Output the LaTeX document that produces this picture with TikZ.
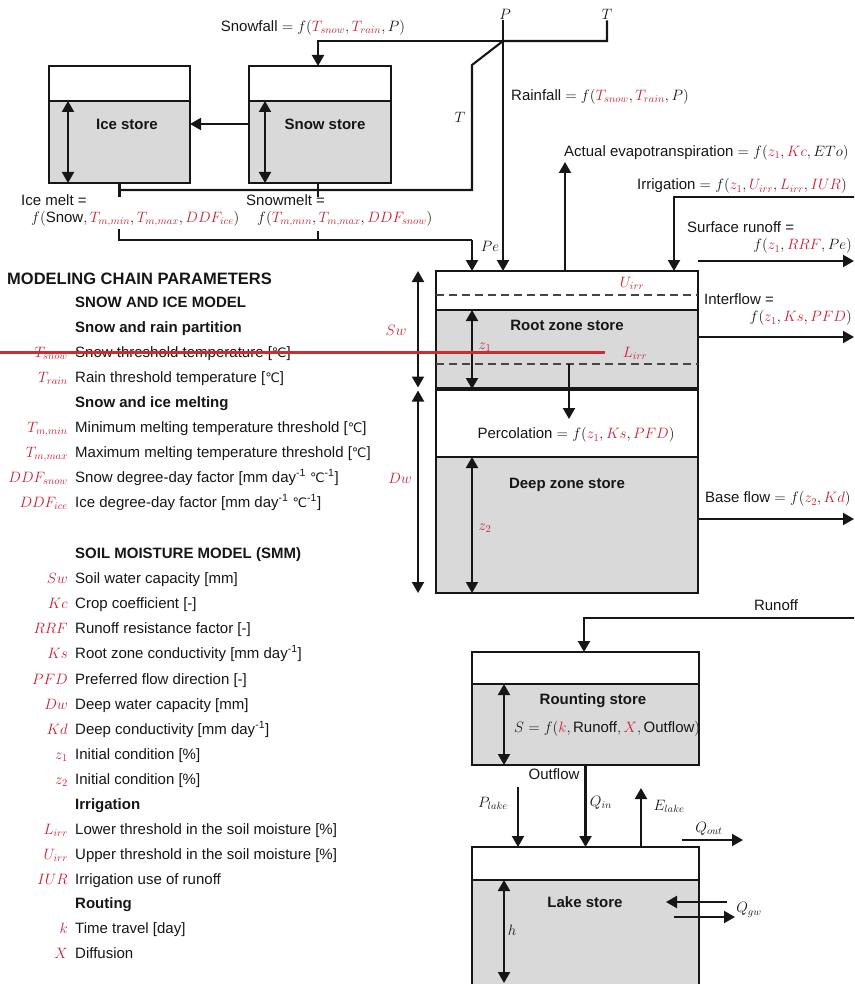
\RequirePackage{fix-cm}
\documentclass[tikz,border=0pt]{standalone}
\usepackage{amsmath}
\usepackage[no-math]{fontspec}
\setmainfont{Liberation Sans}
\newfontfamily\degCfont{DejaVu Sans}
\usetikzlibrary{arrows.meta,positioning,calc}
\definecolor{inkBlack}{RGB}{22,22,22}
\definecolor{storeGray}{RGB}{217,217,217}
\definecolor{dashGray}{RGB}{70,70,70}
\definecolor{paramRed}{RGB}{196,34,56}
\definecolor{markRed}{RGB}{208,44,48}
\newcommand{\rp}[1]{\textcolor{paramRed}{#1}}
\newcommand{\degC}{{\degCfont\fontsize{13}{16}\selectfont ℃}}
\tikzset{
  store top/.style={draw=inkBlack,fill=white,line width=2.5pt,outer sep=0pt,inner sep=0pt},
  store body/.style={draw=inkBlack,fill=storeGray,line width=2.5pt,outer sep=0pt,inner sep=0pt},
  store name/.style={inner sep=1pt,font=\fontsize{15}{18}\selectfont\bfseries,text=inkBlack},
  flow arrow/.style={-{Triangle[length=11pt,width=12pt]},line width=2.1pt,draw=inkBlack},
  flow line/.style={line width=2.1pt,draw=inkBlack},
  level arrow/.style={{Triangle[length=11pt,width=12pt]}-{Triangle[length=11pt,width=12pt]},line width=2pt,draw=inkBlack},
  threshold line/.style={dash pattern=on 8pt off 5pt,line width=2pt,draw=dashGray},
  flow label/.style={inner sep=1pt,text=inkBlack},
  param text/.style={anchor=west,inner sep=1pt,text height=11pt,text depth=3pt,text=inkBlack},
  param head/.style={param text,font=\fontsize{15}{18}\selectfont\bfseries},
  param sym/.style={inner sep=1pt,text=paramRed}
}

\begin{document}
\begin{tikzpicture}[x=1pt,y=-1pt,font=\fontsize{15}{18}\selectfont,text=inkBlack]
  \useasboundingbox (0,0) rectangle (854,984);
  \clip (0,0) rectangle (854,984);

  % snow and ice stores
  \node[store body,minimum width=141pt,minimum height=82pt] (iceBody) at (119.5,142) {};
  \node[store top,minimum width=141pt,minimum height=35pt,above=0pt of iceBody] (iceTop) {};
  \node[store body,minimum width=142pt,minimum height=82pt] (snowBody) at (320,142) {};
  \node[store top,minimum width=142pt,minimum height=35pt,above=0pt of snowBody] (snowTop) {};
  \node[store name] (iceName) at (127,124) {Ice store};
  \node[store name] (snowName) at (325,124) {Snow store};
  \draw[level arrow] ([xshift=19pt]iceBody.north west) -- ([xshift=19pt]iceBody.south west);
  \draw[level arrow] ([xshift=16pt]snowBody.north west) -- ([xshift=16pt]snowBody.south west);
  \draw[flow arrow] (snowBody.west |- snowName) -- (iceBody.east |- snowName);

  % soil column
  \node[store top,minimum width=262pt,minimum height=39pt] (rootTop) at (567,290.5) {};
  \node[store body,minimum width=262pt,minimum height=79pt,below=0pt of rootTop] (rootBody) {};
  \node[store top,minimum width=262pt,minimum height=68pt,below=0pt of rootBody] (percZone) {};
  \node[store body,minimum width=262pt,minimum height=136pt,below=0pt of percZone] (deepBody) {};
  \draw[line width=3.5pt,draw=inkBlack] (rootBody.south west) -- (rootBody.south east);
  \draw[threshold line] ([yshift=-4.5pt]rootTop.west) -- ([yshift=-4.5pt]rootTop.east);
  \draw[threshold line] ([yshift=-14.5pt]rootBody.west) -- ([yshift=-14.5pt]rootBody.east);
  \node[param sym] (uirrLbl) at (632,283) {$U_{irr}$};
  \node[param sym] (lirrLbl) at (635,353) {$L_{irr}$};
  \node[store name] (rootName) at (567,325) {Root zone store};
  \node[store name] (deepName) at (567,485) {Deep zone store};
  \draw[level arrow] ([xshift=36pt]rootBody.north west) -- ([xshift=36pt]rootBody.south west);
  \draw[level arrow] ([xshift=36pt]deepBody.north west) -- ([xshift=36pt]deepBody.south west);
  \node[param sym] (z1Lbl) at (485,347) {$z_1$};
  \node[param sym] (z2Lbl) at (485,528) {$z_2$};
  \coordinate (percStart) at (569,364);
  \coordinate (percEnd) at (569,419);
  \draw[flow arrow] (percStart) -- (percEnd);
  \node[flow label] (percLbl) at (576,435) {Percolation $=f(\rp{z_1},\rp{Ks},\rp{PFD})$};
  \coordinate (capX) at (418,0);
  \draw[level arrow,shorten >=1.5pt] (rootTop.north -| capX) -- (rootBody.south -| capX);
  \draw[level arrow,shorten <=1.5pt] (rootBody.south -| capX) -- (deepBody.south -| capX);
  \node[param sym] (swLbl) at (396,330) {$Sw$};
  \node[param sym] (dwLbl) at (400,478) {$Dw$};

  % precipitation and temperature inputs
  \node[flow label] (pIn) at (505,14) {$P$};
  \node[flow label] (tIn) at (607,14) {$T$};
  \coordinate (pSplit) at (503,41);
  \coordinate (tBend) at (472,65);
  \coordinate (tJoin) at (119,190);
  \draw[flow line] (tIn.south) |- (pSplit) -- (tBend) |- (tJoin);
  \draw[flow arrow] (pSplit) -| ([xshift=-2pt]snowTop.north);
  \draw[flow arrow] (pSplit |- pIn.south) -- (pSplit |- rootTop.north);
  \node[flow label] (snowfallLbl) at (313,28) {Snowfall $=f(\rp{T_{snow}},\rp{T_{rain}},P)$};
  \node[flow label,anchor=west] (rainfallLbl) at (510,97) {Rainfall $=f(\rp{T_{snow}},\rp{T_{rain}},P)$};
  \node[flow label] (tLbl) at (460,117) {$T$};

  % melt towards the soil
  \draw[flow line] (iceBody.south) -- ++(0,14);
  \draw[flow line] ([xshift=-2pt]snowBody.south) -- ++(0,14);
  \node[flow label,anchor=west] (iceMeltLbl) at (20,200) {Ice melt =};
  \node[flow label,anchor=west] (iceMeltFn) at (30,219) {$f(\text{Snow},\rp{T_{m,min}},\rp{T_{m,max}},\rp{DDF_{ice}})$};
  \node[flow label,anchor=west] (snowMeltLbl) at (245,200) {Snowmelt =};
  \node[flow label,anchor=west] (snowMeltFn) at (256,219) {$f(\rp{T_{m,min}},\rp{T_{m,max}},\rp{DDF_{snow}})$};
  \coordinate (meltIce) at (119,229);
  \coordinate (meltSnow) at (318,231);
  \coordinate (peBend) at (472,240);
  \draw[flow line] (meltIce) |- (peBend);
  \draw[flow line] (meltSnow) -- (meltSnow |- peBend);
  \draw[flow arrow] (peBend) -- (peBend |- rootTop.north);
  \node[flow label] (peLbl) at (490,246) {$Pe$};

  % soil fluxes
  \coordinate (etTip) at (565,162);
  \draw[flow arrow] (etTip |- rootTop.north) -- (etTip);
  \node[flow label,anchor=west] (etLbl) at (563,153) {Actual evapotranspiration $=f(\rp{z_1},\rp{Kc},ETo)$};
  \coordinate (irrIn) at (856,197);
  \coordinate (irrBend) at (674,197);
  \draw[flow arrow] (irrIn) -- (irrBend) -- (irrBend |- rootTop.north);
  \node[flow label,anchor=west] (irrLbl) at (636,186) {Irrigation $=f(\rp{z_1},\rp{U_{irr}},\rp{L_{irr}},\rp{IUR})$};
  \coordinate (srOut) at (854,261);
  \draw[flow arrow] (rootTop.east |- srOut) -- (srOut);
  \node[flow label,anchor=west] (srLbl) at (686,227) {Surface runoff =};
  \node[flow label,anchor=east] (srFn) at (853,246) {$f(\rp{z_1},\rp{RRF},Pe)$};
  \node[flow label,anchor=west] (ifLbl) at (703,299) {Interflow =};
  \node[flow label,anchor=east] (ifFn) at (853,318) {$f(\rp{z_1},\rp{Ks},\rp{PFD})$};
  \coordinate (ifOut) at (854,337);
  \draw[flow arrow] (rootBody.east |- ifOut) -- (ifOut);
  \node[flow label,anchor=west] (bfLbl) at (704,499) {Base flow $=f(\rp{z_2},\rp{Kd})$};
  \coordinate (bfOut) at (854,519);
  \draw[flow arrow] (deepBody.east |- bfOut) -- (bfOut);

  % routing and lake
  \node[store body,minimum width=227pt,minimum height=81pt] (routeBody) at (585.5,724.5) {};
  \node[store top,minimum width=227pt,minimum height=32pt,above=0pt of routeBody] (routeTop) {};
  \node[store name] (routeName) at (593,701) {Rounting store};
  \node[flow label,anchor=west] (routeFn) at (513,729) {$S=f(\rp{k},\text{Runoff},\rp{X},\text{Outflow})$};
  \draw[level arrow] ([xshift=32pt]routeBody.north west) -- ([xshift=32pt]routeBody.south west);
  \coordinate (roIn) at (856,618);
  \draw[flow arrow] (roIn) -| ([xshift=-1.5pt]routeTop.north);
  \node[flow label] (roLbl) at (776,605) {Runoff};
  \node[store body,minimum width=227pt,minimum height=130pt] (lakeBody) at (585.5,945) {};
  \node[store top,minimum width=227pt,minimum height=33pt,above=0pt of lakeBody] (lakeTop) {};
  \node[store name] (lakeName) at (585,902) {Lake store};
  \coordinate (hEnd) at (504,983);
  \draw[level arrow] (lakeBody.north -| hEnd) -- (hEnd);
  \node[flow label] (hLbl) at (512,930) {$h$};
  \draw[flow arrow] (routeBody.south) -- (lakeTop.north);
  \node[flow label] (outflowLbl) at (554,774) {Outflow};
  \node[flow label] (qinLbl) at (601,803) {$Q_{in}$};
  \coordinate (plakeStart) at (518,787);
  \draw[flow arrow] (plakeStart) -- (plakeStart |- lakeTop.north);
  \node[flow label] (plakeLbl) at (493,803) {$P_{lake}$};
  \coordinate (elakeTip) at (641,788);
  \draw[flow arrow] (elakeTip |- lakeTop.north) -- (elakeTip);
  \node[flow label] (elakeLbl) at (669,806) {$E_{lake}$};
  \coordinate (qoutStart) at (682,840);
  \coordinate (qoutEnd) at (743,840);
  \draw[flow arrow] (qoutStart) -- (qoutEnd);
  \node[flow label] (qoutLbl) at (709,829) {$Q_{out}$};
  \coordinate (gwInStart) at (727,902);
  \coordinate (gwInEnd) at (666,902);
  \draw[flow arrow] (gwInStart) -- (gwInEnd);
  \coordinate (gwOutStart) at (674,917);
  \coordinate (gwOutEnd) at (735,917);
  \draw[flow arrow] (gwOutStart) -- (gwOutEnd);
  \node[flow label] (qgwLbl) at (749,910) {$Q_{gw}$};

  % parameter list
  \node[param head,font=\fontsize{16.5}{20}\selectfont\bfseries] (chainHead) at (6,280) {MODELING CHAIN PARAMETERS};
  \node[param head] (snowModel) at (74,303) {SNOW AND ICE MODEL};
  \node[param head] (partHead) at (74,328) {Snow and rain partition};
  \node[param text] (tsnowTxt) at (74,353) {Snow threshold temperature [\degC]};
  \node[param sym,base left=5pt of tsnowTxt] (tsnowSym) {$T_{snow}$};
  \node[param text] (trainTxt) at (74,378) {Rain threshold temperature [\degC]};
  \node[param sym,base left=5pt of trainTxt] (trainSym) {$T_{rain}$};
  \node[param head] (meltHead) at (74,403) {Snow and ice melting};
  \node[param text] (tminTxt) at (74,428) {Minimum melting temperature threshold [\degC]};
  \node[param sym,base left=5pt of tminTxt] (tminSym) {$T_{m,min}$};
  \node[param text] (tmaxTxt) at (74,453) {Maximum melting temperature threshold [\degC]};
  \node[param sym,base left=5pt of tmaxTxt] (tmaxSym) {$T_{m,max}$};
  \node[param text] (ddfsTxt) at (74,478) {Snow degree-day factor [mm day\textsuperscript{-1} \degC\textsuperscript{-1}]};
  \node[param sym,base left=5pt of ddfsTxt] (ddfsSym) {$DDF_{snow}$};
  \node[param text] (ddfiTxt) at (74,503) {Ice degree-day factor [mm day\textsuperscript{-1} \degC\textsuperscript{-1}]};
  \node[param sym,base left=5pt of ddfiTxt] (ddfiSym) {$DDF_{ice}$};
  \node[param head] (smmHead) at (74,554) {SOIL MOISTURE MODEL (SMM)};
  \node[param text] (swTxt) at (74,579) {Soil water capacity [mm]};
  \node[param sym,base left=5pt of swTxt] (swSym) {$Sw$};
  \node[param text] (kcTxt) at (74,604) {Crop coefficient [-]};
  \node[param sym,base left=5pt of kcTxt] (kcSym) {$Kc$};
  \node[param text] (rrfTxt) at (74,629) {Runoff resistance factor [-]};
  \node[param sym,base left=5pt of rrfTxt] (rrfSym) {$RRF$};
  \node[param text] (ksTxt) at (74,654) {Root zone conductivity [mm day\textsuperscript{-1}]};
  \node[param sym,base left=5pt of ksTxt] (ksSym) {$Ks$};
  \node[param text] (pfdTxt) at (74,680) {Preferred flow direction [-]};
  \node[param sym,base left=5pt of pfdTxt] (pfdSym) {$PFD$};
  \node[param text] (dwTxt) at (74,705) {Deep water capacity [mm]};
  \node[param sym,base left=5pt of dwTxt] (dwSym) {$Dw$};
  \node[param text] (kdTxt) at (74,730) {Deep conductivity [mm day\textsuperscript{-1}]};
  \node[param sym,base left=5pt of kdTxt] (kdSym) {$Kd$};
  \node[param text] (zoneTxt) at (74,755) {Initial condition [\%]};
  \node[param sym,base left=5pt of zoneTxt] (zoneSym) {$z_1$};
  \node[param text] (ztwoTxt) at (74,780) {Initial condition [\%]};
  \node[param sym,base left=5pt of ztwoTxt] (ztwoSym) {$z_2$};
  \node[param head] (irrHead) at (74,805) {Irrigation};
  \node[param text] (lirrTxt) at (74,830) {Lower threshold in the soil moisture [\%]};
  \node[param sym,base left=5pt of lirrTxt] (lirrSym) {$L_{irr}$};
  \node[param text] (uirrTxt) at (74,855) {Upper threshold in the soil moisture [\%]};
  \node[param sym,base left=5pt of uirrTxt] (uirrSym) {$U_{irr}$};
  \node[param text] (iurTxt) at (74,880) {Irrigation use of runoff};
  \node[param sym,base left=5pt of iurTxt] (iurSym) {$IUR$};
  \node[param head] (routeHead) at (74,904) {Routing};
  \node[param text] (kTxt) at (74,929) {Time travel [day]};
  \node[param sym,base left=5pt of kTxt] (kSym) {$k$};
  \node[param text] (xTxt) at (74,954) {Diffusion};
  \node[param sym,base left=5pt of xTxt] (xSym) {$X$};

  % red mark across the list
  \coordinate (markStart) at (0,352);
  \coordinate (markEnd) at (605,352);
  \draw[line width=3pt,draw=markRed] (markStart) -- (markEnd);
\end{tikzpicture}
\end{document}
